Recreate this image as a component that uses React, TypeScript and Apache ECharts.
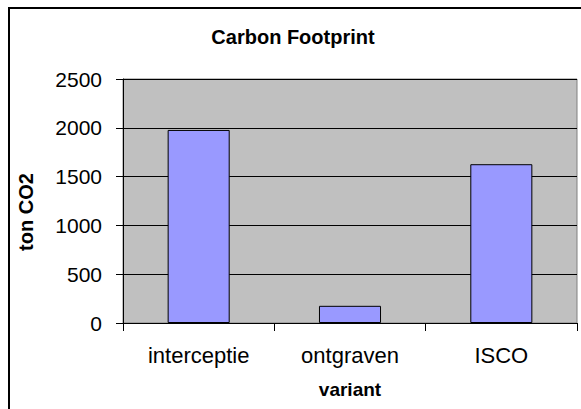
import React, { useEffect, useRef } from "react";
import * as echarts from "echarts";

const categories = ["interceptie", "ontgraven", "ISCO"];
const values = [1978, 176, 1627];
const yTicks = { min: 0, max: 2500, interval: 500 };
const titleText = "Carbon Footprint";
const xName = "variant";
const yName = "ton CO2";

const FONT = "'Liberation Sans', Arial, sans-serif";

export default function App() {
  const ref = useRef<HTMLDivElement>(null);
  useEffect(() => {
    if (!ref.current) return;
    const chart = echarts.init(ref.current, null, { renderer: "svg" });
    chart.setOption({
      animation: false,
      backgroundColor: "#ffffff",
      textStyle: { fontFamily: FONT },
      title: {
        text: titleText,
        left: 288,
        top: 22,
        textAlign: "center",
        textStyle: { fontFamily: FONT, fontSize: 20, fontWeight: "bold", color: "#000" },
      },
      graphic: [
        {
          type: "rect",
          shape: { x: 9, y: 8, width: 700, height: 600 },
          style: { fill: "none", stroke: "#000", lineWidth: 2 },
          silent: true,
        },
        {
          type: "text",
          x: 26,
          y: 212,
          rotation: Math.PI / 2,
          style: {
            text: yName,
            fontFamily: FONT,
            fontSize: 20,
            fontWeight: "bold",
            fill: "#000",
            align: "center",
            verticalAlign: "middle",
          },
        },
      ],
      grid: {
        left: 123,
        right: 4,
        top: 79,
        bottom: 86,
        show: true,
        backgroundColor: "#C0C0C0",
        borderColor: "#808080",
        borderWidth: 1,
      },
      xAxis: {
        type: "category",
        data: categories,
        name: xName,
        nameLocation: "middle",
        nameGap: 57,
        nameTextStyle: { fontFamily: FONT, fontSize: 19, fontWeight: "bold", color: "#000" },
        axisLine: { show: true, lineStyle: { color: "#000", width: 1 } },
        axisTick: { show: true, length: 8, lineStyle: { color: "#000" } },
        axisLabel: { fontFamily: FONT, fontSize: 22, color: "#000", margin: 21 },
        splitLine: { show: false },
      },
      yAxis: {
        type: "value",
        min: yTicks.min,
        max: yTicks.max,
        interval: yTicks.interval,
        axisLine: { show: true, lineStyle: { color: "#000", width: 1 } },
        axisTick: { show: true, length: 7, lineStyle: { color: "#000" } },
        axisLabel: {
          fontFamily: FONT,
          fontSize: 21,
          color: "#000",
          margin: 21,
          formatter: (v: number) => String(v),
        },
        splitLine: { show: true, lineStyle: { color: "#000", width: 1 } },
      },
      series: [
        {
          type: "bar",
          data: values,
          barWidth: "41%",
          itemStyle: { color: "#9999FF", borderColor: "#000", borderWidth: 1 },
        },
      ],
    });
    return () => chart.dispose();
  }, []);
  return (
    <div
      ref={ref}
      style={{ position: "absolute", left: 0, top: 0, width: 581, height: 409 }}
    />
  );
}
